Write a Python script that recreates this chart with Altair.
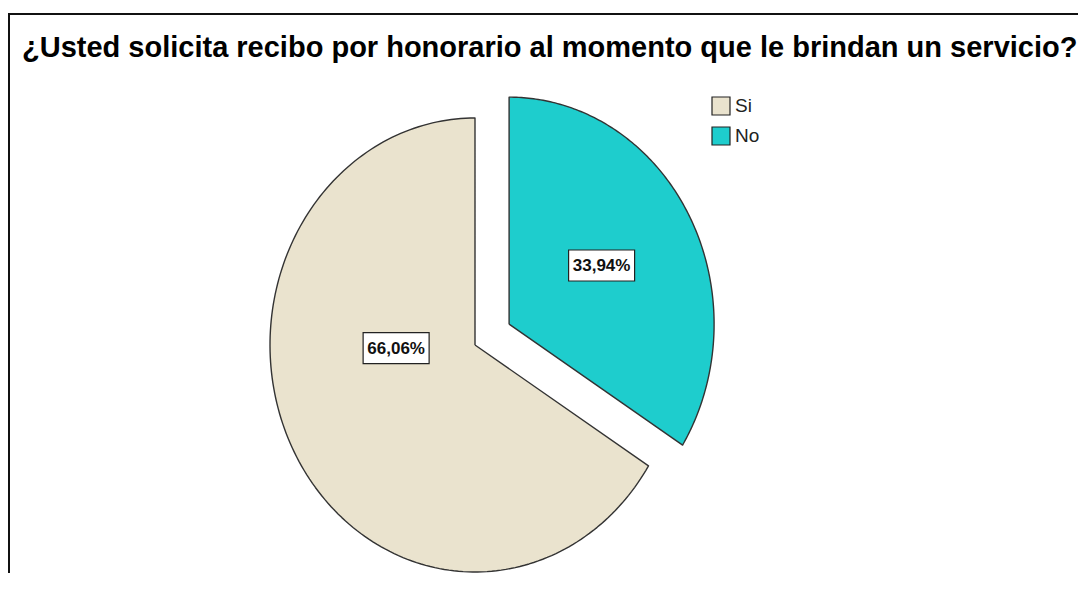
import altair as alt
import numpy as np
import pandas as pd

TITLE = "¿Usted solicita recibo por honorario al momento que le brindan un servicio?"
categories = ["Si", "No"]
percents = [66.06, 33.94]
colors = ["#EAE3CE", "#1ECDCD"]

# style settings
EXPLODE = {"Si": 0.0, "No": 0.19}
LABEL_POLAR = {"Si": (-92.0, 0.385), "No": (60.2, 0.52)}  # (deg clockwise from top, radius) from slice centre
FONT = "Liberation Sans, Arial, sans-serif"
W, H = 1070, 560

# build slice polygons from the data (SPSS draws counter-clockwise from 12 o'clock)
rows = []
labels = []
cum = 0.0
total = sum(percents)
for cat, p in zip(categories, percents):
    a0 = -2 * np.pi * cum / total
    a1 = -2 * np.pi * (cum + p) / total
    cum += p
    mid = (a0 + a1) / 2
    ox, oy = EXPLODE[cat] * np.sin(mid), EXPLODE[cat] * np.cos(mid)
    i = 0
    rows.append({"cat": cat, "i": i, "x": ox, "y": oy}); i += 1
    for a in np.linspace(a0, a1, 180):
        rows.append({"cat": cat, "i": i, "x": ox + np.sin(a), "y": oy + np.cos(a)}); i += 1
    rows.append({"cat": cat, "i": i, "x": ox, "y": oy})
    la, lr = LABEL_POLAR[cat]
    la = np.radians(la)
    labels.append({"cat": cat, "x": ox + lr * np.sin(la), "y": oy + lr * np.cos(la),
                   "txt": f"{p:.2f}%".replace(".", ",")})

poly = pd.DataFrame(rows)
lab = pd.DataFrame(labels)

xs = alt.Scale(domain=[-1, 1], range=[262, 672])
ys = alt.Scale(domain=[-1, 1], range=[559, 105])
X = alt.X("x:Q", scale=xs, axis=None)
Y = alt.Y("y:Q", scale=ys, axis=None)

slices = alt.Chart(poly).mark_line(stroke="#333333", strokeWidth=1.4, strokeJoin="round").encode(
    x=X, y=Y,
    order=alt.Order("i:Q"),
    fill=alt.Fill("cat:N", scale=alt.Scale(domain=categories, range=colors),
                  legend=alt.Legend(title=None, orient="none", legendX=703, legendY=83,
                                    symbolType="square", symbolSize=324,
                                    symbolStrokeColor="#222222", symbolStrokeWidth=1.2,
                                    labelFont=FONT, labelFontSize=19, labelColor="#222222",
                                    rowPadding=6, padding=0, labelOffset=4)),
)

boxes = alt.Chart(lab).mark_point(
    shape="M-1,-0.47H1V0.47H-1Z", size=4356, filled=True, fill="white",
    stroke="#222222", strokeWidth=1.2, opacity=1
).encode(x=X, y=Y)

texts = alt.Chart(lab).mark_text(font=FONT, fontSize=17, fontWeight="bold", color="#111111",
                                 baseline="middle", align="center", dy=1).encode(x=X, y=Y, text="txt:N")

title = alt.Chart(pd.DataFrame({"t": [TITLE]})).mark_text(
    font=FONT, fontSize=29, fontWeight="bold", color="#000000", align="left", baseline="alphabetic"
).encode(x=alt.value(14), y=alt.value(44), text="t:N")

frame_top = alt.Chart(pd.DataFrame({"k": [0]})).mark_rule(color="#111111", strokeWidth=2).encode(
    x=alt.value(0), x2=alt.value(W), y=alt.value(1))
frame_left = alt.Chart(pd.DataFrame({"k": [0]})).mark_rule(color="#111111", strokeWidth=2).encode(
    x=alt.value(1), y=alt.value(0), y2=alt.value(H + 10))

chart = alt.layer(frame_top, frame_left, title, slices, boxes, texts).properties(
    width=W, height=H, autosize="none",
    padding={"left": 0, "top": 5, "right": 0, "bottom": 0},
    background="white",
).configure_view(strokeWidth=0)

chart.save("out.html", embed_options={"renderer": "svg", "actions": False})
